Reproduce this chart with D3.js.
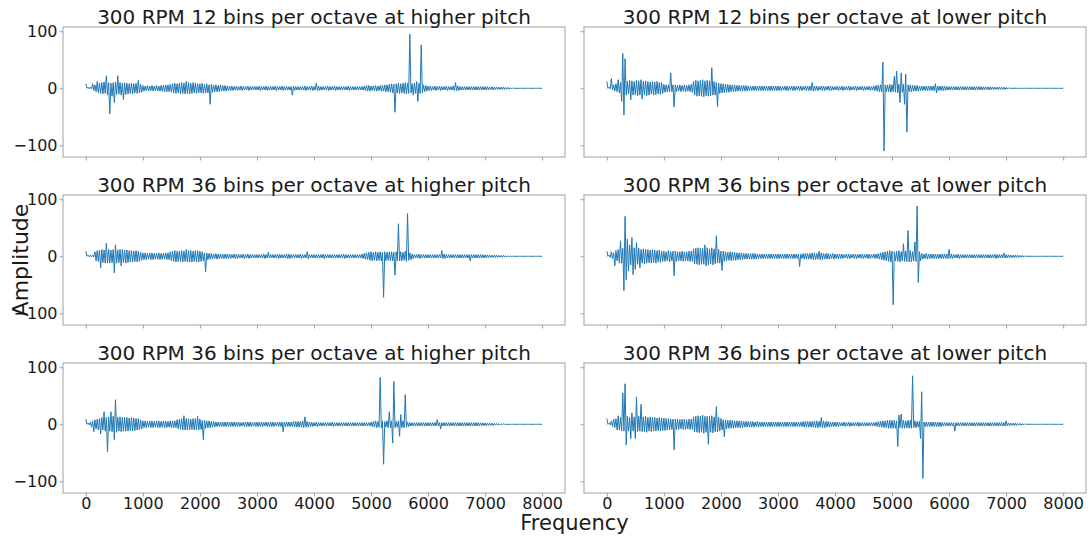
<!DOCTYPE html>
<html>
<head>
<meta charset="utf-8">
<script src="https://cdn.jsdelivr.net/npm/d3@7"></script>
<style>
  body { margin: 0; background: #fff; }
  svg { display: block; font-family: "DejaVu Sans", sans-serif; }
</style>
</head>
<body>
<svg id="chart" width="1090" height="538"></svg>
<script>
// Panel titles, in reading order (row by row)
var titles = [
    "300 RPM 12 bins per octave at higher pitch",
    "300 RPM 12 bins per octave at lower pitch",
    "300 RPM 36 bins per octave at higher pitch",
    "300 RPM 36 bins per octave at lower pitch",
    "300 RPM 36 bins per octave at higher pitch",
    "300 RPM 36 bins per octave at lower pitch"
];

var freqTicks = [0, 1000, 2000, 3000, 4000, 5000, 6000, 7000, 8000];
var ampTicks = [100, 0, -100];
var freqStep = 40;   // width of one frequency bin (0, 40, 80 ... 8000 Hz)

// upper / lower excursion of the signal inside each bin
var hi12Higher = [
    8,2,2,8,6,12,9,10,11,22,10,9,10,11,22,10,9,10,9,8,9,8,9,14,7,
    5,4,5,4,5,4,5,4,5,5,6,6,7,8,9,8,9,10,9,12,10,9,10,9,8,
    8,9,7,8,6,7,6,6,5,6,5,5,4,4,4,3,4,3,4,3,3,4,3,3,4,
    3,4,3,3,4,3,3,3,4,3,3,4,3,3,3,3,4,3,3,3,3,4,3,3,4,
    3,9,4,3,3,3,4,3,3,4,3,3,3,3,3,4,3,3,3,3,3,3,4,5,5,
    4,4,5,4,5,5,6,6,7,8,7,8,9,8,9,10,9,95,8,9,12,9,76,6,5,
    4,4,3,4,3,4,3,3,4,3,3,4,10,4,3,3,3,3,3,3,3,3,3,3,3,
    3,3,2,3,2,2,2,2,2,1.5,1.5,1,1,0.5,0.3,0,0,0,0,0,0,0,0,0,0,
    0
];
var lo12Higher = [
    0,-1,-1,-4,-6,-8,-9,-10,-9,-12,-45,-14,-25,-11,-10,-12,-20,-11,-10,-9,-10,-8,-9,-8,-7,
    -5,-4,-5,-4,-5,-4,-5,-5,-5,-6,-6,-6,-7,-8,-9,-8,-10,-9,-10,-9,-10,-9,-8,-9,-8,
    -8,-9,-8,-8,-28,-7,-6,-6,-6,-5,-5,-5,-4,-4,-4,-3,-4,-3,-4,-3,-3,-4,-3,-3,-3,
    -3,-4,-3,-3,-4,-3,-3,-3,-4,-3,-3,-4,-3,-3,-3,-12,-4,-3,-3,-3,-3,-4,-3,-3,-4,
    -3,-4,-4,-3,-3,-3,-4,-3,-3,-4,-3,-3,-3,-3,-3,-4,-3,-3,-3,-3,-3,-3,-4,-5,-5,
    -4,-4,-5,-4,-5,-5,-6,-6,-7,-8,-42,-8,-9,-8,-9,-10,-9,-8,-12,-9,-23,-9,-8,-6,-5,
    -4,-4,-3,-4,-3,-4,-3,-3,-4,-3,-3,-4,-4,-4,-3,-3,-3,-3,-3,-3,-3,-3,-3,-3,-3,
    -3,-3,-2,-3,-2,-2,-2,-2,-2,-1.5,-1.5,-1,-1,-0.5,-0.3,0,0,0,0,0,0,0,0,0,0,
    0
];

var hi12Lower = [
    12,2,17,6,8,15,10,61,52,12,14,13,12,14,13,15,12,13,12,11,12,11,12,10,10,
    7,6,6,27,6,6,5,6,5,6,5,6,7,12,14,13,14,15,13,14,13,36,12,10,9,
    8,8,7,7,6,6,6,5,5,5,5,5,4,4,4,4,4,4,4,4,4,4,4,4,4,
    4,4,3,4,4,3,4,4,3,4,4,3,4,4,4,10,4,4,3,4,4,3,4,4,3,
    3,4,3,4,3,3,4,3,3,4,3,3,4,3,3,4,3,4,5,6,6,46,6,6,7,
    6,21,30,7,27,7,25,6,6,5,5,5,4,4,4,4,4,4,4,8,4,4,4,4,3,
    3,3,3,3,3,3,3,3,3,3,3,3,3,3,3,2.5,2.5,2.5,2.5,2.5,2,2,2,2,2,
    1.5,1,0.8,0.5,0.3,0,0,0,0,0,0,0,0,0,0,0,0,0,0,0,0,0,0,0,0,
    0
];
var lo12Lower = [
    0,-1,-3,-5,-6,-8,-23,-47,-12,-10,-20,-12,-11,-13,-12,-19,-11,-13,-12,-10,-12,-11,-10,-11,-9,
    -7,-6,-6,-6,-33,-6,-5,-6,-5,-6,-5,-6,-7,-12,-14,-13,-14,-15,-13,-14,-13,-12,-12,-32,-9,
    -8,-8,-7,-7,-6,-6,-6,-5,-5,-5,-5,-5,-4,-4,-4,-4,-4,-4,-4,-4,-4,-4,-4,-4,-4,
    -4,-4,-3,-4,-4,-3,-4,-4,-3,-4,-4,-3,-4,-4,-4,-5,-4,-4,-3,-4,-4,-3,-4,-4,-3,
    -3,-4,-3,-4,-3,-3,-4,-3,-3,-4,-3,-3,-4,-3,-3,-4,-3,-4,-5,-6,-6,-110,-6,-6,-7,
    -6,-7,-8,-25,-7,-28,-77,-6,-6,-5,-5,-5,-4,-4,-4,-4,-4,-4,-4,-8,-4,-4,-4,-4,-3,
    -3,-3,-3,-3,-3,-3,-3,-3,-3,-3,-3,-3,-3,-3,-3,-2.5,-2.5,-2.5,-2.5,-2.5,-2,-2,-2,-2,-2,
    -1.5,-1,-0.8,-0.5,-0.3,0,0,0,0,0,0,0,0,0,0,0,0,0,0,0,0,0,0,0,0,
    0
];

var hi36Higher = [
    9,2,2,2,8,10,11,12,11,23,12,11,12,20,11,12,12,11,11,10,10,9,10,9,7,
    6,6,5,6,6,5,5,6,5,5,6,6,8,9,10,9,9,10,9,12,10,10,9,10,10,
    9,8,6,6,5,5,4,5,4,4,4,4,4,4,3,4,4,3,3,4,3,4,3,3,3,
    3,3,3,4,3,7,3,3,3,4,3,3,3,4,4,3,3,3,3,4,3,3,8,3,3,
    3,3,3,3,4,3,3,3,3,3,3,3,3,4,3,3,3,3,3,3,3,4,5,6,7,
    8,7,8,7,8,7,8,7,8,8,7,8,57,8,7,9,75,6,4,3,3,4,3,3,3,
    3,3,3,3,3,3,10,4,3,3,3,3,3,3,3,3,3,3,3,3,3,3,3,3,3,
    2.5,2.5,2,2,2,2,1.5,1.5,1.5,1,1,0.8,0.5,0.3,0,0,0,0,0,0,0,0,0,0,0,
    0
];
var lo36Higher = [
    0,-1,-1,-1,-8,-9,-20,-11,-12,-12,-12,-11,-29,-12,-11,-17,-11,-12,-11,-10,-10,-9,-10,-9,-7,
    -6,-6,-5,-6,-6,-5,-5,-6,-5,-5,-6,-6,-8,-9,-10,-9,-9,-10,-9,-10,-10,-10,-9,-10,-10,
    -9,-8,-27,-6,-5,-5,-4,-5,-4,-4,-4,-4,-4,-4,-3,-4,-4,-3,-3,-4,-3,-4,-3,-3,-3,
    -3,-3,-3,-4,-3,-3,-3,-3,-3,-4,-3,-3,-3,-4,-4,-3,-3,-3,-3,-4,-3,-3,-4,-3,-3,
    -3,-3,-3,-3,-4,-3,-3,-3,-3,-3,-3,-3,-3,-4,-3,-3,-3,-3,-3,-3,-3,-4,-5,-6,-7,
    -8,-7,-8,-7,-8,-72,-8,-7,-8,-8,-33,-8,-8,-8,-7,-9,-7,-6,-4,-3,-3,-4,-3,-3,-3,
    -3,-3,-3,-3,-3,-3,-4,-4,-3,-3,-3,-3,-3,-3,-3,-3,-3,-3,-8,-3,-3,-3,-3,-3,-3,
    -2.5,-2.5,-2,-2,-2,-2,-1.5,-1.5,-1.5,-1,-1,-0.8,-0.5,-0.3,0,0,0,0,0,0,0,0,0,0,0,
    0
];

var hi36Lower = [
    9,2,8,6,10,12,27,14,70,30,20,33,15,24,14,12,13,12,12,11,12,11,10,11,9,
    9,8,10,8,9,9,8,8,9,8,8,9,9,13,14,15,14,14,20,15,13,15,13,36,12,
    9,9,8,7,8,7,7,6,6,6,5,5,5,5,5,5,4,4,4,4,4,4,4,4,4,
    4,4,4,4,4,4,4,4,4,4,4,5,5,5,5,6,6,5,9,6,5,5,5,4,5,
    4,4,4,4,3,4,4,3,4,4,3,4,4,3,4,4,3,4,4,5,6,7,8,9,10,
    9,8,9,10,8,22,9,45,10,8,25,88,8,5,4,5,4,4,4,4,4,4,4,4,4,
    12,4,3,3,4,3,3,3,3,3,3,3,3,3,3,3,3,3,3,3,4,3,3,3,6,
    3,2.5,2.5,2,2,2,1.5,1.5,1,1,0.8,0.5,0.3,0,0,0,0,0,0,0,0,0,0,0,0,
    0
];
var lo36Lower = [
    0,-2,-4,-17,-8,-12,-12,-60,-41,-26,-15,-32,-23,-14,-20,-12,-13,-12,-11,-12,-11,-12,-10,-11,-9,
    -9,-8,-10,-8,-34,-9,-8,-8,-9,-8,-8,-9,-9,-13,-14,-15,-14,-14,-17,-15,-13,-15,-13,-12,-12,
    -25,-9,-8,-7,-8,-7,-7,-6,-6,-6,-5,-5,-5,-5,-5,-5,-4,-4,-4,-4,-4,-4,-4,-4,-4,
    -4,-4,-4,-4,-4,-4,-4,-4,-4,-18,-4,-5,-5,-5,-5,-6,-6,-5,-6,-6,-5,-5,-5,-4,-5,
    -4,-4,-4,-4,-3,-4,-4,-3,-4,-4,-3,-4,-4,-3,-4,-4,-3,-4,-4,-5,-6,-7,-8,-9,-10,
    -85,-8,-9,-10,-8,-9,-9,-10,-10,-8,-9,-46,-8,-5,-4,-5,-4,-4,-4,-4,-4,-4,-4,-4,-4,
    -4,-4,-3,-3,-4,-3,-3,-3,-3,-3,-3,-3,-3,-3,-3,-3,-3,-3,-3,-3,-4,-3,-3,-3,-3,
    -3,-2.5,-2.5,-2,-2,-2,-1.5,-1.5,-1,-1,-0.8,-0.5,-0.3,0,0,0,0,0,0,0,0,0,0,0,0,
    0
];

var hi36Higher2 = [
    9,2,4,6,8,9,10,12,22,12,13,22,14,43,12,13,12,12,12,11,12,11,10,10,8,
    6,6,5,6,6,5,6,6,5,6,6,5,6,6,6,8,9,10,15,10,10,9,10,10,14,
    9,7,7,6,6,5,5,4,4,4,4,4,4,4,4,4,4,4,3,4,4,4,4,3,4,
    4,4,4,3,4,4,4,4,3,4,4,4,4,4,4,4,5,5,5,5,6,13,5,4,4,
    3,4,3,3,3,3,3,3,4,3,3,3,3,3,3,3,3,3,3,3,3,3,3,3,3,
    4,5,6,5,82,6,5,6,22,6,75,5,6,17,6,52,4,3,3,3,3,3,3,3,3,
    3,3,3,3,8,3,3,3,3,3,3,3,3,3,3,3,3,3,3,3,3,3,3,2.5,2.5,
    2.5,2,2,2,1.5,1.5,1,1,0.8,0.5,0.3,0,0,0,0,0,0,0,0,0,0,0,0,0,0,
    0
];
var lo36Higher2 = [
    0,-1,-5,-13,-8,-10,-17,-10,-12,-48,-12,-13,-27,-14,-12,-13,-12,-12,-12,-11,-12,-11,-10,-10,-8,
    -6,-6,-5,-6,-6,-5,-6,-6,-5,-6,-6,-5,-6,-6,-6,-8,-9,-10,-10,-10,-10,-9,-10,-10,-10,
    -9,-27,-7,-6,-6,-5,-5,-4,-4,-4,-4,-4,-4,-4,-4,-4,-4,-4,-3,-4,-4,-4,-4,-3,-4,
    -4,-4,-4,-3,-4,-4,-4,-4,-3,-4,-4,-13,-4,-4,-4,-4,-5,-5,-5,-5,-6,-5,-5,-4,-4,
    -3,-4,-3,-3,-3,-3,-3,-3,-4,-3,-3,-3,-3,-3,-3,-3,-3,-3,-3,-3,-3,-3,-3,-3,-3,
    -4,-5,-6,-5,-6,-70,-5,-6,-6,-33,-6,-5,-21,-6,-6,-5,-4,-3,-3,-3,-3,-3,-3,-3,-3,
    -3,-3,-3,-3,-3,-8,-3,-3,-3,-3,-3,-3,-3,-3,-3,-3,-3,-3,-3,-3,-3,-3,-3,-2.5,-2.5,
    -2.5,-2,-2,-2,-1.5,-1.5,-1,-1,-0.8,-0.5,-0.3,0,0,0,0,0,0,0,0,0,0,0,0,0,0,
    0
];

var hi36Lower2 = [
    10,2,6,9,10,15,12,55,71,14,12,20,13,48,14,35,13,14,12,13,12,12,11,12,11,
    11,10,10,9,9,9,9,8,9,9,8,9,9,13,14,15,14,16,14,14,14,15,13,31,12,
    10,8,8,7,7,7,6,6,6,6,5,5,5,5,5,4,5,4,4,4,4,4,4,4,4,
    4,4,4,4,4,4,4,4,4,4,4,5,5,5,5,5,6,6,5,12,6,5,5,4,4,
    4,4,3,3,4,3,4,3,3,3,4,3,3,3,3,3,3,3,4,5,5,6,6,7,7,
    7,7,6,16,18,7,6,7,7,85,6,5,5,57,4,4,4,4,4,4,4,4,3,3,3,
    3,3,3,3,3,3,3,3,3,3,3,3,3,3,3,3,3,3,3,3,3,3,3,3,3,
    6,2.5,2,2,2,1.5,1.5,1,1,0.8,0.5,0.3,0,0,0,0,0,0,0,0,0,0,0,0,0,
    0
];
var lo36Lower2 = [
    0,-1,-4,-6,-10,-10,-12,-12,-36,-12,-25,-12,-25,-13,-12,-13,-13,-14,-12,-13,-12,-12,-11,-12,-11,
    -11,-10,-10,-9,-45,-9,-9,-8,-9,-9,-8,-9,-9,-13,-14,-15,-14,-16,-14,-35,-14,-15,-13,-13,-12,
    -10,-22,-8,-7,-7,-7,-6,-6,-6,-6,-5,-5,-5,-5,-5,-4,-5,-4,-4,-4,-4,-4,-4,-4,-4,
    -4,-4,-4,-4,-4,-4,-4,-4,-4,-4,-4,-5,-5,-5,-5,-5,-6,-6,-5,-6,-6,-5,-5,-4,-4,
    -4,-4,-3,-3,-4,-3,-4,-3,-3,-3,-4,-3,-3,-3,-3,-3,-3,-3,-4,-5,-5,-6,-6,-7,-7,
    -7,-7,-39,-6,-7,-7,-6,-7,-7,-6,-6,-5,-25,-95,-4,-4,-4,-4,-4,-4,-4,-4,-3,-3,-3,
    -3,-3,-12,-3,-3,-3,-3,-3,-3,-3,-3,-3,-3,-3,-3,-3,-3,-3,-3,-3,-3,-3,-3,-3,-3,
    -2.5,-2.5,-2,-2,-2,-1.5,-1.5,-1,-1,-0.8,-0.5,-0.3,0,0,0,0,0,0,0,0,0,0,0,0,0,
    0
];

var seriesHi = [hi12Higher, hi12Lower, hi36Higher, hi36Lower, hi36Higher2, hi36Lower2];
var seriesLo = [lo12Higher, lo12Lower, lo36Higher, lo36Lower, lo36Higher2, lo36Lower2];

// layout
var colX = [63, 584];
var rowY = [27, 195, 363];
var axW = 502, axH = 130;
var lineColor = "#1f77b4";
var spineColor = "#a0a0a0";
var textColor = "#1a1a1a";

var svg = d3.select("#chart");

var x = d3.scaleLinear().domain([-400, 8400]).range([0, axW]);
var y = d3.scaleLinear().domain([-120.4, 107.4]).range([axH, 0]);

var line = d3.line()
    .x(d => x(d[0]))
    .y(d => y(d[1]));

// walk each bin: top of the bin, then bottom half a bin later
function binPoints(hi, lo) {
    var pts = [];
    hi.forEach(function(h, i) {
        pts.push([i * freqStep, h]);
        if (i < hi.length - 1) pts.push([i * freqStep + freqStep / 2, lo[i]]);
    });
    return pts;
}

seriesHi.forEach(function(hi, k) {
    var col = k % 2, row = Math.floor(k / 2);
    var g = svg.append("g")
        .attr("transform", "translate(" + colX[col] + "," + rowY[row] + ")");

    g.append("path")
        .datum(binPoints(hi, seriesLo[k]))
        .attr("fill", "none")
        .attr("stroke", lineColor)
        .attr("stroke-width", 1)
        .attr("stroke-linejoin", "round")
        .attr("d", line);

    // x axis: labels only on bottom row
    var xAxis = d3.axisBottom(x).tickValues(freqTicks).tickSize(3.5).tickPadding(1)
        .tickFormat(row === 2 ? d3.format("d") : "");
    var gx = g.append("g").attr("transform", "translate(0," + axH + ")").call(xAxis);

    // y axis: labels only on left column
    var yAxis = d3.axisLeft(y).tickValues(ampTicks).tickSize(3.5).tickPadding(2)
        .tickFormat(col === 0 ? (d => d < 0 ? "\u2212" + Math.abs(d) : d) : "");
    var gy = g.append("g").call(yAxis);

    [gx, gy].forEach(function(a) {
        a.select(".domain").remove();
        a.selectAll(".tick line").attr("stroke", spineColor);
        a.selectAll(".tick text").attr("fill", textColor).style("font-size", "16px")
            .style("font-family", "'DejaVu Sans', sans-serif");
    });

    g.append("rect")
        .attr("width", axW).attr("height", axH)
        .attr("fill", "none")
        .attr("stroke", spineColor)
        .attr("stroke-width", 1);

    g.append("text")
        .attr("x", axW / 2)
        .attr("y", -3)
        .attr("text-anchor", "middle")
        .style("font-size", "20px")
        .attr("fill", textColor)
        .text(titles[k]);
});

// shared axis labels
svg.append("text")
    .attr("x", (colX[0] + colX[1] + axW) / 2)
    .attr("y", 530)
    .attr("text-anchor", "middle")
    .style("font-size", "21px")
    .attr("fill", textColor)
    .text("Frequency");

svg.append("text")
    .attr("transform", "translate(28," + (rowY[0] + rowY[2] + axH) / 2 + ") rotate(-90)")
    .attr("text-anchor", "middle")
    .style("font-size", "22px")
    .attr("fill", textColor)
    .text("Amplitude");
</script>
</body>
</html>
